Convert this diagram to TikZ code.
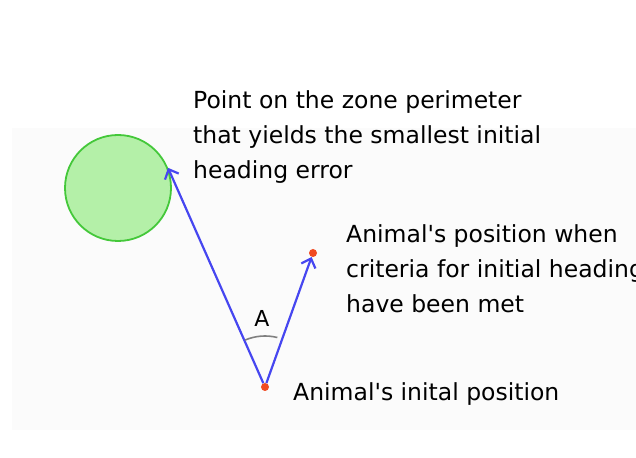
\documentclass[tikz,border=0pt]{standalone}
\usepackage{fontspec}
\setmainfont{DejaVu Sans}
\usepackage{tikz}
\usetikzlibrary{arrows.meta}
\definecolor{zonefill}{HTML}{B4F0A8}
\definecolor{zoneline}{HTML}{44C83A}
\definecolor{pathblue}{HTML}{4646F0}
\definecolor{posred}{HTML}{F04A22}

\tikzset{
  posdot/.style={circle,fill=posred,inner sep=0pt,minimum size=8pt},
  heading/.style={->,pathblue,line width=2.2pt},
  caption/.style={anchor=north west,align=left,inner sep=0pt,font=\fontsize{23.5}{35}\selectfont}
}

\begin{document}
\begin{tikzpicture}[x=1pt,y=1pt,>={Straight Barb[length=8pt,width=15pt]}]
\clip (0,0) rectangle (636,457);
% faint backdrop
\fill[black!1.5] (12,27) rectangle (636,329);
% ---------- zone ----------
\node[circle,draw=zoneline,fill=zonefill,line width=1.8pt,minimum size=106pt,inner sep=0pt] (zone) at (118,269) {};
% ---------- positions ----------
\node[posdot] (start) at (265,70) {};
\node[posdot] (moved) at (313,204) {};
% headings
\draw[heading] (start) -- (zone.22);
\draw[heading] (start) -- (moved);
% angle
\draw[gray,line width=1.6pt] (start) ++(76:51) arc[start angle=76,end angle=113,radius=51];
\node[font=\fontsize{22}{24}\selectfont] (alabel) at (262,139) {A};
% ---------- captions ----------
\node[caption] (goaltext) at (193,367) {Point on the zone perimeter\\that yields the smallest initial\\heading error};
\node[caption] (movedtext) at (346,233) {Animal\textquotesingle s position when\\criteria for initial heading\\have been met};
\node[caption,anchor=west] (starttext) at (293,63) {Animal\textquotesingle s inital position};
\end{tikzpicture}
\end{document}
